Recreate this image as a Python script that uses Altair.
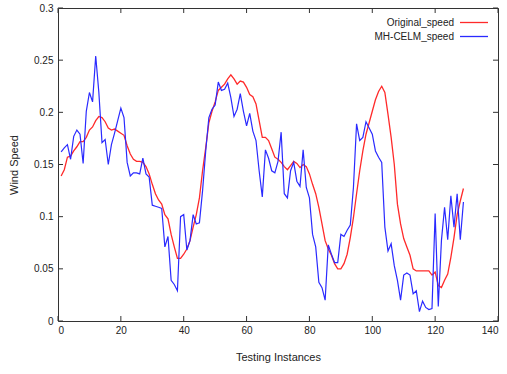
import altair as alt
import pandas as pd

# ---- data ----
instances = list(range(1, 130))

original_speed = [
    0.139, 0.145, 0.157, 0.158, 0.163, 0.167, 0.172, 0.172, 0.176, 0.183,
    0.186, 0.192, 0.196, 0.195, 0.191, 0.185, 0.183, 0.184, 0.182, 0.180,
    0.178, 0.168, 0.160, 0.155, 0.153, 0.153, 0.152, 0.148, 0.141, 0.131,
    0.122, 0.116, 0.112, 0.102, 0.098, 0.083, 0.071, 0.060, 0.060, 0.064,
    0.069, 0.077, 0.090, 0.102, 0.118, 0.144, 0.166, 0.190, 0.201, 0.210,
    0.221, 0.224, 0.227, 0.232, 0.236, 0.232, 0.227, 0.230, 0.229, 0.224,
    0.217, 0.215, 0.208, 0.192, 0.176, 0.176, 0.173, 0.165, 0.157, 0.155,
    0.152, 0.148, 0.145, 0.149, 0.153, 0.151, 0.147, 0.150, 0.148, 0.141,
    0.131, 0.122, 0.109, 0.093, 0.077, 0.069, 0.063, 0.055, 0.050, 0.050,
    0.055, 0.064, 0.080, 0.099, 0.122, 0.144, 0.163, 0.179, 0.190, 0.201,
    0.212, 0.220, 0.225, 0.219, 0.198, 0.176, 0.150, 0.112, 0.093, 0.079,
    0.071, 0.063, 0.050, 0.048, 0.048, 0.048, 0.048, 0.048, 0.044, 0.047,
    0.034, 0.032, 0.039, 0.045, 0.061, 0.080, 0.102, 0.115, 0.127,
]

mhcelm_speed = [
    0.162, 0.166, 0.169, 0.155, 0.177, 0.183, 0.179, 0.151, 0.201, 0.219,
    0.210, 0.254, 0.219, 0.171, 0.174, 0.150, 0.169, 0.180, 0.192, 0.204,
    0.195, 0.152, 0.139, 0.142, 0.142, 0.141, 0.156, 0.141, 0.138, 0.111,
    0.110, 0.109, 0.108, 0.071, 0.081, 0.039, 0.035, 0.029, 0.100, 0.102,
    0.068, 0.077, 0.102, 0.093, 0.094, 0.125, 0.163, 0.195, 0.203, 0.207,
    0.229, 0.221, 0.222, 0.228, 0.214, 0.196, 0.203, 0.218, 0.201, 0.187,
    0.199, 0.182, 0.173, 0.144, 0.119, 0.164, 0.156, 0.144, 0.142, 0.153,
    0.181, 0.122, 0.118, 0.144, 0.152, 0.134, 0.129, 0.164, 0.128, 0.118,
    0.083, 0.071, 0.037, 0.032, 0.020, 0.073, 0.064, 0.056, 0.056, 0.083,
    0.081, 0.087, 0.092, 0.128, 0.189, 0.173, 0.176, 0.191, 0.185, 0.179,
    0.163, 0.157, 0.152, 0.090, 0.067, 0.074, 0.053, 0.039, 0.020, 0.044,
    0.046, 0.044, 0.026, 0.029, 0.009, 0.019, 0.013, 0.011, 0.012, 0.103,
    0.014, 0.077, 0.109, 0.078, 0.120, 0.090, 0.122, 0.078, 0.114,
]

series_names = ["Original_speed", "MH-CELM_speed"]
series_colors = ["#ff2a2a", "#2a2aff"]

x_ticks = [0, 20, 40, 60, 80, 100, 120, 140]
y_ticks = [0, 0.05, 0.1, 0.15, 0.2, 0.25, 0.3]

FONT = "Liberation Sans"
W, H = 440, 313
TICK = 5

df = pd.DataFrame({
    "x": instances * 2,
    "v": original_speed + mhcelm_speed,
    "series": [series_names[0]] * len(instances) + [series_names[1]] * len(instances),
})

xs = alt.Scale(domain=[0, 140], nice=False, zero=False)
ys = alt.Scale(domain=[0, 0.3], nice=False)
cs = alt.Scale(domain=series_names, range=series_colors)

x_axis = alt.Axis(values=x_ticks, format="d", title="Testing Instances",
                  grid=False, domain=False, ticks=False, labelPadding=4,
                  titlePadding=16, labelFont=FONT, titleFont=FONT,
                  labelFontSize=10, titleFontSize=11, titleFontWeight="normal",
                  labelColor="#222", titleColor="#222")
y_axis = alt.Axis(values=y_ticks, format="~g", title="Wind Speed",
                  grid=False, domain=False, ticks=False, labelPadding=5,
                  titlePadding=14, labelFont=FONT, titleFont=FONT,
                  labelFontSize=10, titleFontSize=11, titleFontWeight="normal",
                  labelColor="#222", titleColor="#222")

base = alt.Chart(df)

line_orig = base.transform_filter(alt.datum.series == series_names[0]).mark_line(
    strokeWidth=1.3, clip=True
).encode(
    x=alt.X("x:Q", scale=xs, axis=x_axis),
    y=alt.Y("v:Q", scale=ys, axis=y_axis),
    color=alt.Color("series:N", scale=cs, legend=None),
)
line_pred = base.transform_filter(alt.datum.series == series_names[1]).mark_line(
    strokeWidth=1.2, clip=True
).encode(
    x=alt.X("x:Q", scale=xs),
    y=alt.Y("v:Q", scale=ys),
    color=alt.Color("series:N", scale=cs, legend=None),
)

xt = pd.DataFrame({"t": x_ticks})
yt = pd.DataFrame({"t": y_ticks})
tick_color = "#333"

bottom_ticks = alt.Chart(xt).mark_rule(color=tick_color).encode(
    x=alt.X("t:Q", scale=xs), y=alt.value(H), y2=alt.value(H - TICK))
top_ticks = alt.Chart(xt).mark_rule(color=tick_color).encode(
    x=alt.X("t:Q", scale=xs), y=alt.value(0), y2=alt.value(TICK))
left_ticks = alt.Chart(yt).mark_rule(color=tick_color).encode(
    y=alt.Y("t:Q", scale=ys), x=alt.value(0), x2=alt.value(TICK))
right_ticks = alt.Chart(yt).mark_rule(color=tick_color).encode(
    y=alt.Y("t:Q", scale=ys), x=alt.value(W), x2=alt.value(W - TICK))

# legend (text on the left, sample line on the right, as in gnuplot)
leg = pd.DataFrame({"name": series_names, "color": series_colors})
legend_rows = []
for i, (name, col) in enumerate(zip(series_names, series_colors)):
    yy = 14.5 + 14 * i
    legend_rows.append(
        alt.Chart(leg[leg["name"] == name]).mark_text(
            align="right", baseline="middle", font=FONT, fontSize=10, color="#222"
        ).encode(text="name:N", x=alt.value(396), y=alt.value(yy))
    )
    legend_rows.append(
        alt.Chart(leg[leg["name"] == name]).mark_rule(color=col, strokeWidth=1.3).encode(
            x=alt.value(402), x2=alt.value(430), y=alt.value(yy))
    )

chart = alt.layer(
    line_orig, line_pred, bottom_ticks, top_ticks, left_ticks, right_ticks,
    *legend_rows
).properties(
    width=W, height=H,
    padding={"left": 58, "top": 8, "right": 9, "bottom": 53},
    autosize=alt.AutoSizeParams(type="none"),
    background="white",
).configure_view(
    stroke="#333", strokeWidth=1
)

chart.save("out.html", embed_options={"renderer": "svg", "actions": False})
